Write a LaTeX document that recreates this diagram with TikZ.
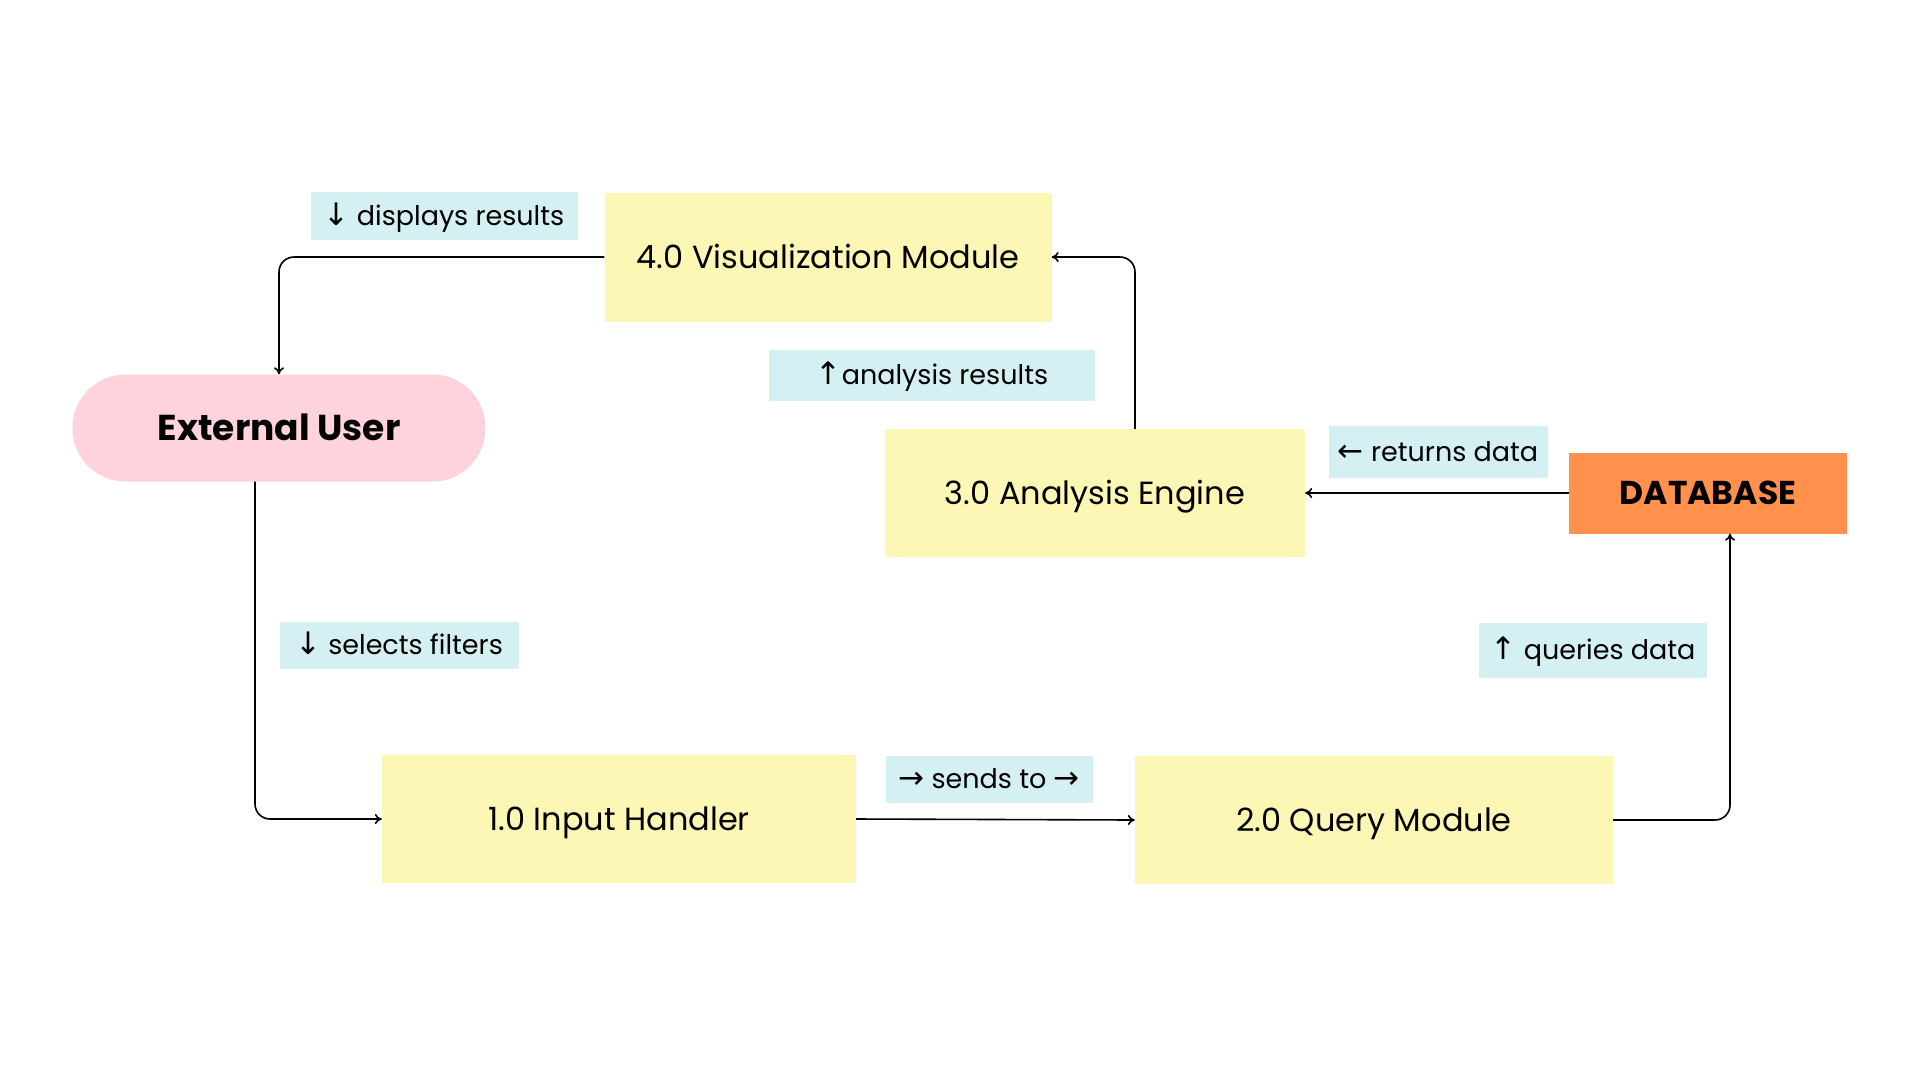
\documentclass[tikz,border=0pt]{standalone}
\usepackage{fontspec}
\setmainfont{Poppins}
\newfontfamily\arrowfont{DejaVu Sans}
\usetikzlibrary{arrows.meta}
\definecolor{procyellow}{RGB}{253,247,182}
\definecolor{userpink}{RGB}{255,211,219}
\definecolor{labelcyan}{RGB}{212,240,242}
\definecolor{dborange}{RGB}{255,145,77}
\newcommand{\arr}[1]{{\arrowfont\fontsize{31}{31}\selectfont #1}}
\tikzset{
 proc/.style={fill=procyellow,inner sep=0pt,text height=22pt,text depth=0pt,font=\fontsize{32}{36}\selectfont},
 flowlabel/.style={fill=labelcyan,inner sep=0pt,text height=19pt,text depth=0pt,font=\fontsize{27}{31}\selectfont},
 flow/.style={->,line width=1.6pt,rounded corners=15pt}
}
\begin{document}
\begin{tikzpicture}[x=1pt,y=-1pt,>={To[length=7pt,width=10pt]}]
 \useasboundingbox[fill=white] (0,0) rectangle (1920,1080);
 \node[proc,minimum width=447pt,minimum height=129pt] (vis) at (828,257) {4.0 Visualization Module};
 \node[fill=userpink,rounded corners=53pt,minimum width=413pt,minimum height=107pt,inner sep=0pt,
  text height=25pt,text depth=0pt,font=\fontsize{36}{40}\selectfont\bfseries] (user) at (279,428) {External User};
 \node[proc,minimum width=420pt,minimum height=128pt] (ana) at (1095,493) {3.0 Analysis Engine};
 \node[fill=dborange,minimum width=278pt,minimum height=81pt,inner sep=0pt,
  text height=23pt,text depth=0pt,font=\fontsize{33}{37}\selectfont\bfseries] (db) at (1708,493) {DATABASE};
 \node[proc,minimum width=474pt,minimum height=128pt] (inp) at (619,819) {1.0 Input Handler};
 \node[proc,minimum width=478pt,minimum height=128pt] (qry) at (1374,820) {2.0 Query Module};
 \node[flowlabel,minimum width=267pt,minimum height=48pt] (lbldisp) at (444,216) {\arr{↓} displays results};
 \node[flowlabel,minimum width=326pt,minimum height=51pt] (lblana) at (932,375) {\arr{↑}analysis results};
 \node[flowlabel,minimum width=219pt,minimum height=52pt] (lblret) at (1438,452) {\arr{←} returns data};
 \node[flowlabel,minimum width=239pt,minimum height=47pt] (lblsel) at (399,645) {\arr{↓} selects filters};
 \node[flowlabel,minimum width=207pt,minimum height=47pt] (lblsend) at (989,779) {\arr{→} sends to \arr{→}};
 \node[flowlabel,minimum width=228pt,minimum height=55pt] (lblqry) at (1593,650) {\arr{↑} queries data};
 \draw[flow] (vis.west) -| (user.north);
 \draw[flow] ([xshift=-24pt]user.south) |- (inp.west);
 \draw[flow] (inp.east) -- (qry.west);
 \draw[flow] (qry.east) -| ([xshift=22pt]db.south);
 \draw[flow] (db.west) -- (ana.east);
 \draw[flow] ([xshift=40pt]ana.north) |- (vis.east);
\end{tikzpicture}
\end{document}
